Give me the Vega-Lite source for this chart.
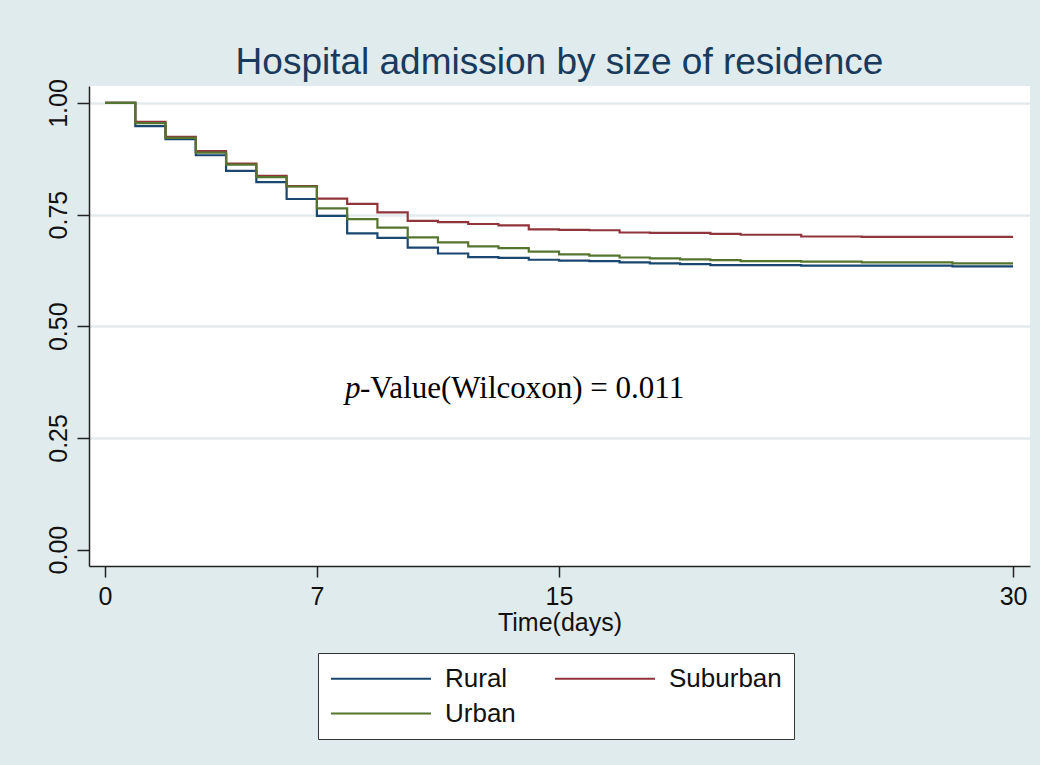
{
  "$schema": "https://vega.github.io/schema/vega-lite/v6.json",
  "width": 941,
  "height": 480,
  "autosize": {"type": "none"},
  "padding": {"left": 89, "top": 86, "right": 10, "bottom": 199},
  "background": "#e0ebee",
  "config": {
    "view": {"fill": "white", "stroke": null},
    "font": "Liberation Sans"
  },
  "title": {
    "text": "Hospital admission by size of residence",
    "fontSize": 37,
    "font": "Liberation Sans",
    "fontWeight": "normal",
    "color": "#1a3a5c",
    "anchor": "middle",
    "frame": "group",
    "baseline": "alphabetic",
    "offset": -32
  },
  "layer": [
    {
      "data": {
        "values": [
          {"day": 0, "surv": 1.0, "group": "Rural"},
          {"day": 1, "surv": 0.948, "group": "Rural"},
          {"day": 2, "surv": 0.919, "group": "Rural"},
          {"day": 3, "surv": 0.883, "group": "Rural"},
          {"day": 4, "surv": 0.848, "group": "Rural"},
          {"day": 5, "surv": 0.823, "group": "Rural"},
          {"day": 6, "surv": 0.785, "group": "Rural"},
          {"day": 7, "surv": 0.747, "group": "Rural"},
          {"day": 8, "surv": 0.708, "group": "Rural"},
          {"day": 9, "surv": 0.698, "group": "Rural"},
          {"day": 10, "surv": 0.676, "group": "Rural"},
          {"day": 11, "surv": 0.663, "group": "Rural"},
          {"day": 12, "surv": 0.655, "group": "Rural"},
          {"day": 13, "surv": 0.653, "group": "Rural"},
          {"day": 14, "surv": 0.649, "group": "Rural"},
          {"day": 15, "surv": 0.647, "group": "Rural"},
          {"day": 16, "surv": 0.646, "group": "Rural"},
          {"day": 17, "surv": 0.643, "group": "Rural"},
          {"day": 18, "surv": 0.641, "group": "Rural"},
          {"day": 19, "surv": 0.639, "group": "Rural"},
          {"day": 20, "surv": 0.637, "group": "Rural"},
          {"day": 23, "surv": 0.636, "group": "Rural"},
          {"day": 28, "surv": 0.634, "group": "Rural"},
          {"day": 30, "surv": 0.634, "group": "Rural"},
          {"day": 0, "surv": 1.0, "group": "Suburban"},
          {"day": 1, "surv": 0.958, "group": "Suburban"},
          {"day": 2, "surv": 0.924, "group": "Suburban"},
          {"day": 3, "surv": 0.892, "group": "Suburban"},
          {"day": 4, "surv": 0.864, "group": "Suburban"},
          {"day": 5, "surv": 0.837, "group": "Suburban"},
          {"day": 6, "surv": 0.814, "group": "Suburban"},
          {"day": 7, "surv": 0.786, "group": "Suburban"},
          {"day": 8, "surv": 0.774, "group": "Suburban"},
          {"day": 9, "surv": 0.755, "group": "Suburban"},
          {"day": 10, "surv": 0.736, "group": "Suburban"},
          {"day": 11, "surv": 0.733, "group": "Suburban"},
          {"day": 12, "surv": 0.729, "group": "Suburban"},
          {"day": 13, "surv": 0.726, "group": "Suburban"},
          {"day": 14, "surv": 0.717, "group": "Suburban"},
          {"day": 15, "surv": 0.716, "group": "Suburban"},
          {"day": 16, "surv": 0.715, "group": "Suburban"},
          {"day": 17, "surv": 0.71, "group": "Suburban"},
          {"day": 18, "surv": 0.709, "group": "Suburban"},
          {"day": 20, "surv": 0.707, "group": "Suburban"},
          {"day": 21, "surv": 0.705, "group": "Suburban"},
          {"day": 23, "surv": 0.701, "group": "Suburban"},
          {"day": 25, "surv": 0.7, "group": "Suburban"},
          {"day": 30, "surv": 0.7, "group": "Suburban"},
          {"day": 0, "surv": 1.0, "group": "Urban"},
          {"day": 1, "surv": 0.955, "group": "Urban"},
          {"day": 2, "surv": 0.922, "group": "Urban"},
          {"day": 3, "surv": 0.889, "group": "Urban"},
          {"day": 4, "surv": 0.862, "group": "Urban"},
          {"day": 5, "surv": 0.834, "group": "Urban"},
          {"day": 6, "surv": 0.813, "group": "Urban"},
          {"day": 7, "surv": 0.764, "group": "Urban"},
          {"day": 8, "surv": 0.74, "group": "Urban"},
          {"day": 9, "surv": 0.721, "group": "Urban"},
          {"day": 10, "surv": 0.699, "group": "Urban"},
          {"day": 11, "surv": 0.688, "group": "Urban"},
          {"day": 12, "surv": 0.679, "group": "Urban"},
          {"day": 13, "surv": 0.675, "group": "Urban"},
          {"day": 14, "surv": 0.667, "group": "Urban"},
          {"day": 15, "surv": 0.661, "group": "Urban"},
          {"day": 16, "surv": 0.658, "group": "Urban"},
          {"day": 17, "surv": 0.654, "group": "Urban"},
          {"day": 18, "surv": 0.652, "group": "Urban"},
          {"day": 19, "surv": 0.65, "group": "Urban"},
          {"day": 20, "surv": 0.648, "group": "Urban"},
          {"day": 21, "surv": 0.646, "group": "Urban"},
          {"day": 23, "surv": 0.645, "group": "Urban"},
          {"day": 25, "surv": 0.643, "group": "Urban"},
          {"day": 28, "surv": 0.641, "group": "Urban"},
          {"day": 30, "surv": 0.641, "group": "Urban"}
        ]
      },
      "mark": {"type": "line", "interpolate": "step-after", "strokeWidth": 2.2},
      "encoding": {
        "x": {
          "field": "day",
          "type": "quantitative",
          "scale": {"domain": [-0.529, 30.56], "nice": false, "zero": false},
          "axis": {
            "values": [0, 7, 15, 30],
            "title": "Time(days)",
            "titleFontSize": 25,
            "titleFontWeight": "normal",
            "titleColor": "#111",
            "titlePadding": 1,
            "labelFontSize": 25,
            "labelColor": "#111",
            "labelPadding": 7,
            "tickSize": 11,
            "tickColor": "#222",
            "tickWidth": 1.5,
            "domainColor": "#222",
            "domainWidth": 1.5,
            "grid": false,
            "labelFlush": false,
            "labelOverlap": false
          }
        },
        "y": {
          "field": "surv",
          "type": "quantitative",
          "scale": {"domain": [-0.0367, 1.038], "nice": false, "zero": false},
          "axis": {
            "values": [0, 0.25, 0.5, 0.75, 1],
            "format": ".2f",
            "title": null,
            "labelAngle": 270,
            "labelAlign": "center",
            "labelBaseline": "bottom",
            "labelFontSize": 25,
            "labelColor": "#111",
            "labelPadding": 6,
            "tickSize": 12,
            "tickColor": "#222",
            "tickWidth": 1.5,
            "domainColor": "#222",
            "domainWidth": 1.5,
            "grid": true,
            "gridColor": {"condition": {"test": "datum.value === 0", "value": "transparent"}, "value": "#e3eaec"},
            "gridWidth": 2.5,
            "labelFlush": false,
            "labelOverlap": false
          }
        },
        "color": {
          "field": "group",
          "type": "nominal",
          "scale": {"domain": ["Rural", "Suburban", "Urban"], "range": ["#1a476f", "#90353b", "#55752f"]},
          "legend": {
            "orient": "none",
            "legendX": 229,
            "legendY": 567,
            "direction": "horizontal",
            "columns": 2,
            "title": null,
            "symbolType": "M-1,0H7",
            "symbolSize": 625,
            "symbolStrokeWidth": 2,
            "labelFontSize": 26,
            "labelColor": "#111",
            "labelOffset": 88,
            "labelLimit": 400,
            "columnPadding": 35,
            "rowPadding": 8,
            "padding": 12,
            "strokeColor": "#333",
            "fillColor": "white"
          }
        }
      }
    },
    {
      "data": {"values": [{"label": "p"}]},
      "mark": {"type": "text", "font": "Liberation Serif", "fontStyle": "italic", "fontSize": 31, "align": "left", "baseline": "alphabetic", "color": "#000"},
      "encoding": {
        "x": {"datum": 7.93, "type": "quantitative"},
        "y": {"datum": 0.339, "type": "quantitative"},
        "text": {"field": "label"}
      }
    },
    {
      "data": {"values": [{"label": "-Value(Wilcoxon) = 0.011"}]},
      "mark": {"type": "text", "font": "Liberation Serif", "fontSize": 31, "align": "left", "baseline": "alphabetic", "dx": 15, "color": "#000"},
      "encoding": {
        "x": {"datum": 7.93, "type": "quantitative"},
        "y": {"datum": 0.339, "type": "quantitative"},
        "text": {"field": "label"}
      }
    }
  ]
}
